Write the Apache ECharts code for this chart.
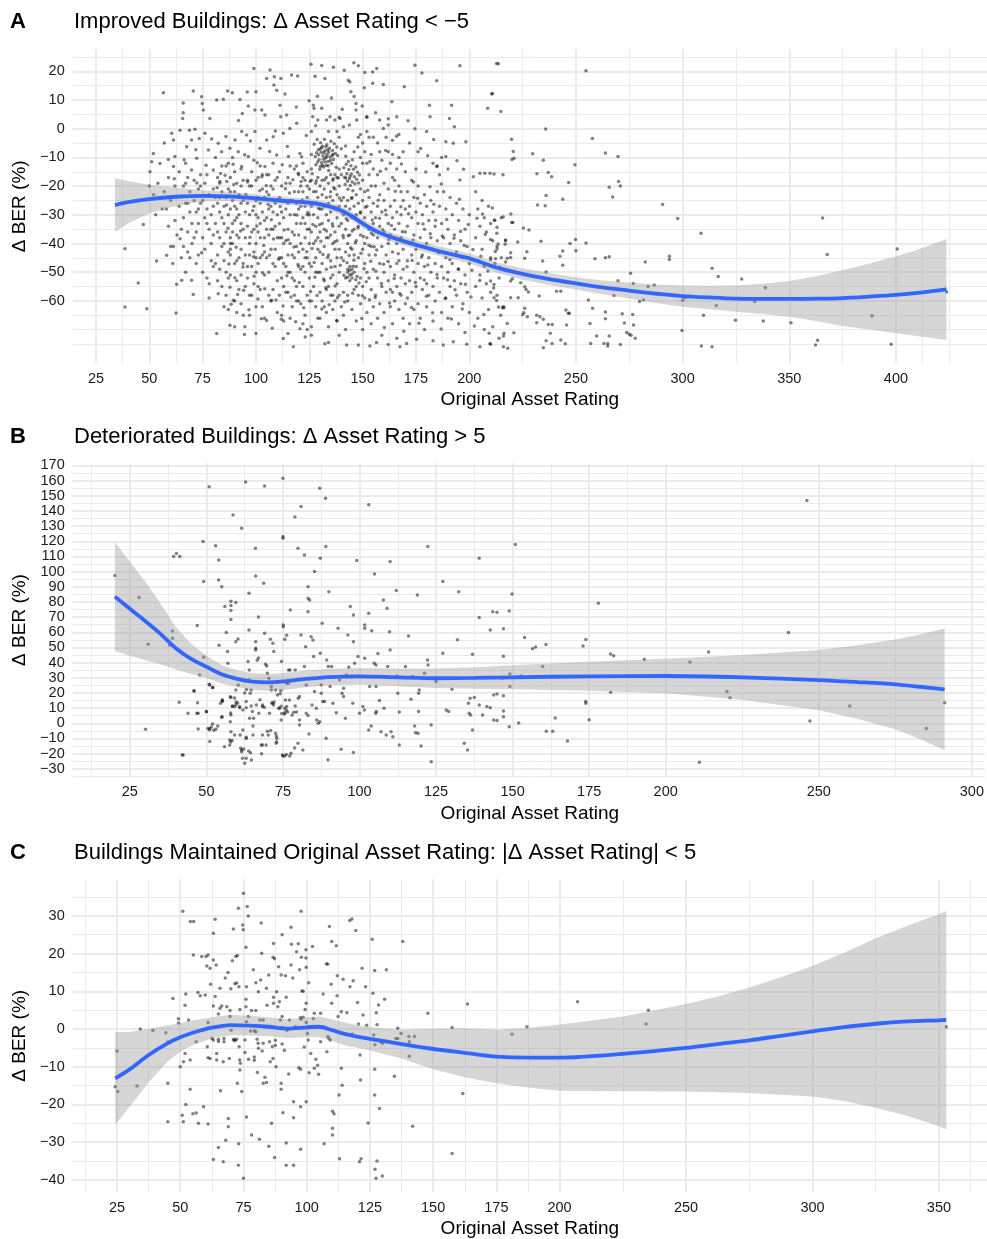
<!DOCTYPE html>
<html>
<head>
<meta charset="utf-8">
<script src="https://cdn.jsdelivr.net/npm/echarts@6/dist/echarts.min.js"></script>
<style>
html,body{margin:0;padding:0;background:#fff}
#chart{width:987px;height:1239px}
</style>
</head>
<body>
<div id="chart"></div>
<script>
// ---------- Panel A: improved buildings ----------
const ptsA = [
[99,21],[106.6,20.5],[116.7,18.7],[119.5,18.4],[125.8,22.5],[130.8,22],[136.3,21.4],[141.4,20.4],[145.9,23],[148,21.9],[151,19.6],[154.7,19.8],[156.6,21],[174.5,22.1],[177.8,19.4],[195.6,21.9],[212.8,22.7],[210.5,12.1],[208.6,7.1],[184.7,16.7],[169.5,14.6],[159.7,15.4],[154.7,15.8],[150.8,14.3],[144,16.3],[143.3,16.9],[144.5,12.9],[146,11.2],[146.9,8.8],[146.9,6.5],[127.7,18.3],[132.3,17.5],[126.9,8.2],[127.2,7.1],[130.8,7.1],[126.6,4.2],[133.1,3],[134.7,4.2],[139.4,3.6],[141,0.7],[143.8,1.3],[147.2,3],[151.9,4.2],[162,3.5],[166,4.2],[162,1.3],[159.7,0.1],[174.5,0],[181.6,4.2],[181.3,8.2],[191.7,8.2],[193,0.7],[180,-1],[189,-4.5],[192.5,-5.1],[198.4,-4.5],[180.5,-9.4],[184.7,-13.2],[189,-9.7],[201.9,-16.7],[205,-15.5],[207.3,-15.5],[209.7,-15.5],[195.6,-17.9],[181.6,-20.2],
[56.6,12.5],[70.6,13.1],[65.9,9],[65.9,5.6],[65.6,3.6],[74.5,11.1],[74.8,8.8],[75.3,6.5],[78.4,3.6],[81.6,10],[84.7,10.3],[86.7,13.1],[88.9,12.5],[92.5,10.2],[95.9,12.8],[100,12.9],[105,17.5],[108.6,18.1],[111.7,17.5],[108.4,15.2],[109.7,13.4],[113.6,12.1],[111.3,8.2],[96.4,7.9],[93.6,5.3],[99.5,6.5],[102.7,6.5],[104.2,4.8],[111.6,4.2],[114.4,4.8],
[60.5,-1.6],[64.4,-0.5],[68.8,-0.5],[71.4,-0.2],[61.3,-3.9],[69.8,-3.9],[73.4,-3.4],[76.1,-1.6],[82.3,-5.1],[87.8,-6.8],[90.2,-3.9],[93.3,-1],[95.6,-2.2],[99.5,-1],[105,-3.9],[108.1,-2.8],[112.8,-1.6],[115.9,0.1],[119.1,1.9],
[51.9,-8.6],[51.1,-11.5],[55,-12.1],[58.9,-10.7],[62,-9.7],[67.5,-6.3],[72.2,-10.3],[77.7,-7.4],[83.9,-8],[91.7,-8],[96.4,-9.7],[101.9,-6.8],[109.7,-9.2],[115.2,-9.7],[120.6,-8.6],
[50.3,-15],[61.3,-13.2],[69.8,-14.4],[80,-14.4],[83.1,-18.4],[86.3,-18.4],[93.3,-13.2],[104.2,-13.2],[119.8,-15.5],
[47.2,-33.4],[38.6,-41.8],[44.8,-53.8],[38.6,-62.1],[48.8,-62.7],[53.4,-46.1],[58.1,-44.1],[61.3,-41],[64.4,-38.3],[62.8,-54.2],[62.5,-64.2],[65.2,-52.8],[69.8,-52.8],[70.6,-57.8],[74.5,-43.2],[78.1,-54],[82.3,-57.5],[81.6,-71.4],[87.8,-68.5],[90,-69],[94.8,-69],[87.8,-55.2],[89.4,-59.8],[94.1,-65],[100,-71.4],[105,-66.8],[107.3,-59.8],[112.8,-73.1],[115,-71.4],[117.5,-76],[120.6,-69.7],[126,-72],[126,-69],[132.3,-74.9],[134,-74.5],[142.5,-75.4],[148,-75.4],[153.4,-75.7],[156.5,-74.5],[162,-75.2],[167.5,-76],[170.6,-74.8],[175.3,-73.4],[183,-73.9],[187.8,-75.4],[192.5,-74.2],[198.8,-75.1],[205,-76],[209.7,-74.8],
[50,-20],[52,-23],[53,-30],[54,-19],[56,-28],[57,-22],[57,-5],[58,-28],[59,-34],[59,-17],[60,-41],[60,-25],[61,-47],[62,-32],[62,-20],[63,-37],[64,-15],[64,-27],[65,-45],[65,-35],
[66,-20],[66,-31],[67,-26],[67,-12],[67,-50],[68,-36],[68,-17],[68,-43],[69,-29],[69,-22],[70,-40],[70,-33],[71,-25],[71,-18],[72,-47],[72,-29],[72,-36],[73,-21],[73,-33],[73,-44],[74,-16],[74,-26],[75,-25],[75,-38],[76,-42],[76,-19],[76,-31],[77,-16],[77,-52],[77,-28],[78,-59],[78,-23],[78,-35],[79,-30],[79,-46],[80,-37],[80,-21],[80,-27],[80,-48],[79,-40],[77,-33],[75,-50],[74,-20],[73,-28],[71,-38],[69,-45],[68,-26],[67,-19],[66,-41],
[81,-24],[81,-33],[81,-10],[82,-26],[82,-44],[82,-17],[83,-19],[83,-49],[83,-38],[83,-29],[84,-41],[84,-13],[84,-55],[84,-22],[85,-33],[85,-46],[85,-27],[86,-58],[86,-36],[86,-24],[87,-12],[87,-43],[87,-30],[87,-52],[87,-21],[88,-28],[88,-38],[88,-40],[88,-42],[88,-44],[88,-17],[89,-36],[89,-40],[89,-25],[89,-10],[90,-22],[90,-60],[90,-32],[90,-47],[90,-15],[91,-46],[91,-28],[91,-37],[91,-19],[91,-53],[92,-30],[92,-38],[92,-23],[93,-14],[93,-51],[93,-33],[93,-26],[93,-42],[94,-25],[94,-35],[94,-18],[95,-44],[95,-29],[95,-55],[84,-31],[86,-50],[92,-56],[82,-36],[93,-20],[94,-47],[85,-62],[91,-64],[89,-33],[88,-51],[93,-61],[81,-47],[95,-38],[92,-45],[87,-63],[91,-31],[83,-24],[85,-40],[88,-22],[90,-27],[86,-13],[82,-53],
[96,-34],[96,-26],[96,-48],[97,-20],[97,-58],[97,-40],[97,-30],[98,-48],[98,-15],[98,-24],[98,-36],[99,-27],[99,-11],[99,-43],[99,-54],[100,-40],[100,-18],[100,-30],[101,-17],[101,-55],[101,-36],[101,-24],[102,-33],[102,-13],[102,-45],[103,-44],[103,-62],[103,-21],[103,-29],[104,-24],[104,-38],[104,-51],[105,-31],[105,-16],[106,-37],[106,-50],[106,-23],[107,-20],[107,-60],[107,-27],[107,-42],[108,-29],[108,-12],[108,-47],[109,-42],[109,-18],[109,-34],[110,-53],[110,-25],[110,-38],[97,-65],[100,-62],[102,-56],[104,-66],[106,-58],[108,-56],[110,-64],[96,-52],[99,-35],[101,-47],[105,-45],[109,-26],[108,-35],[110,-17],[98,-20],[100,-25],[102,-26],[104,-32],[106,-28],[96,-18],[101,-31],[105,-35],[107,-35],[109,-48],[97,-44],[100,-50],[102,-38],[104,-43],[106,-16],[108,-21],[110,-30],[103,-16],[105,-22],[98,-58],[100,-45],
[111,-15],[111,-33],[111,-24],[111,-45],[112,-20],[112,-38],[112,-52],[112,-65],[113,-25],[113,-47],[113,-31],[114,-39],[114,-57],[114,-28],[115,-57],[115,-17],[115,-35],[115,-44],[116,-19],[116,-30],[116,-50],[117,-44],[117,-25],[117,-36],[117,-62],[118,-53],[118,-22],[118,-30],[119,-26],[119,-13],[119,-41],[119,-55],[120,-16],[120,-37],[120,-28],[120,-48],[121,-61],[121,-49],[121,-20],[121,-33],[122,-22],[122,-31],[122,-42],[122,-55],[122,-12],[123,-18],[123,-27],[123,-38],[123,-50],[123,-65],[124,-15],[124,-24],[124,-35],[124,-45],[124,-58],[125,-21],[125,-30],[125,-40],[125,-52],[125,-60],[111,-58],[113,-67],[116,-66],[118,-58],[120,-60],[122,-68],[124,-70],[112,-29],[114,-19],[116,-40],[118,-45],[113,-40],[115,-26],[117,-52],[119,-33],[121,-27],[123,-45],[125,-47],[116,-13],[118,-14],[120,-22],[122,-17],[124,-30],[111,-38],[113,-55],[115,-50],[119,-60],[121,-40],[123,-33],[125,-35],[112,-45],[114,-48],[116,-25],[118,-37],[120,-43],[122,-48],[124,-20],
[127.3,-5.4],[127.8,-9.7],[128.1,-12.6],[128.7,-3.8],[129.2,-7.3],[129.6,-10.8],[129.9,-14.1],[130.3,-4.9],[130.6,-8.2],[130.8,-11.9],[131.2,-6.1],[131.4,-9.4],[131.7,-13.3],[132.1,-3.7],[132.3,-7.7],[132.6,-10.2],[132.9,-12.8],[133.2,-5.6],[133.4,-8.9],[133.8,-11.4],[134.1,-14.6],[134.4,-6.8],[134.7,-9.9],[135.1,-4.4],[135.5,-12.1],[135.9,-7.6],[136.3,-10.7],[136.7,-5.2],[137.2,-8.6],[137.6,-13.4],[138.3,-9.3],[130.1,-7.1],[131.9,-8.4],[133.6,-7.4],[132.4,-11.6],[134.9,-11.1],[129.4,-9.1],[131.1,-12.7],[133.1,-9.8],[136.1,-8.9],[128.4,-8.4],[130.7,-6.6],[132.8,-6.3],[134.2,-8.1],[135.7,-9.4],[131.6,-10.6],[133.9,-12.9],[130.2,-13.2],[137.9,-6.4],[128.9,-11.6],
[126,-1],[128,1],[129,3],[137,3],[138,-1],[139,4],[139,-3],[126,-18],[127,-22],[127,-30],[127,-40],[127,-55],[128,-19],[128,-26],[128,-34],[128,-45],[128,-62],[129,-17],[129,-24],[129,-31],[129,-38],[129,-50],[129,-66],[130,-20],[130,-28],[130,-36],[130,-43],[130,-57],[131,-18],[131,-23],[131,-33],[131,-47],[131,-60],[132,-21],[132,-27],[132,-35],[132,-41],[132,-53],[133,-17],[133,-24],[133,-30],[133,-38],[133,-49],[133,-64],[134,-19],[134,-26],[134,-32],[134,-44],[134,-55],[134,-69],[135,-16],[135,-22],[135,-29],[135,-37],[135,-46],[135,-58],[136,-18],[136,-25],[136,-34],[136,-40],[136,-51],[136,-63],[137,-16],[137,-21],[137,-28],[137,-36],[137,-48],[137,-60],[138,-17],[138,-23],[138,-31],[138,-39],[138,-54],[138,-67],[139,-14],[139,-20],[139,-27],[139,-34],[139,-42],[139,-50],[139,-58],[139,-72],[140,-7],[140,-16],[140,-25],[140,-33],[140,-45],[140,-62],[126,-9],[126,-27],[126,-36],[126,-48],[126,-60],[128,-50],[130,-50],[132,-62],[134,-38],[136,-58],[138,-45],[129,-42],[131,-28],[133,-56],[135,-52],[137,-42],[126,-14],[128,-39],[130,-66],[134,-1],
[141.2,-13.6],[141.5,-16.9],[141.8,-19.4],[142.3,-12.4],[142.6,-15.7],[142.9,-18.3],[143.1,-21.1],[143.5,-14.2],[143.8,-17.4],[144.2,-19.8],[144.5,-12.9],[144.7,-15.8],[145.1,-18.6],[145.4,-21.6],[145.7,-14.1],[146.1,-16.7],[146.4,-19.2],[146.8,-13.3],[147.2,-17.6],[147.6,-15.2],[148.1,-18.9],[148.5,-16.1],[143.3,-11.4],[145.2,-10.8],[144.1,-16.6],[142.1,-17.2],
[149,-2],[152,4],[155,-3],[141,-24],[141,-30],[141,-38],[141,-46],[141,-57],[141,-65],[142,-27],[142,-35],[142,-43],[142,-52],[142,-70],[143,-25],[143,-32],[143,-40],[143,-49],[143,-50],[143,-60],[144,-28],[144,-37],[144,-48],[144,-51],[144,-53],[145,-24],[145,-31],[145,-42],[145,-49],[145,-52],[145,-63],[146,-27],[146,-35],[146,-44],[146,-50],[146,-56],[147,-23],[147,-30],[147,-39],[147,-48],[147,-67],[148,-26],[148,-34],[148,-45],[148,-58],[149,-10],[149,-21],[149,-29],[149,-37],[149,-52],[149,-61],[150,-5],[150,-18],[150,-25],[150,-33],[150,-42],[150,-55],[150,-70],[151,-8],[151,-22],[151,-31],[151,-47],[151,-59],[152,-12],[152,-27],[152,-38],[152,-50],[152,-64],[153,-3],[153,-16],[153,-24],[153,-35],[153,-44],[154,-9],[154,-20],[154,-29],[154,-41],[154,-56],[154,-68],[155,-14],[155,-26],[155,-37],[155,-49],[155,-62],[142,-6],[146,-8],[148,-3],[150,-12],[152,-1],[143,-58],[147,-55],[151,-40],[153,-52],[155,-33],
[157,-5],[158,3],[162,-8],[163,-12],[164,-4],[165,-18],[167,-10],[168,-22],[170,-15],[156,-20],[156,-31],[156,-44],[156,-58],[157,-16],[157,-27],[157,-38],[157,-52],[157,-66],[158,-23],[158,-34],[158,-47],[158,-61],[159,-11],[159,-29],[159,-41],[159,-55],[159,-72],[160,-19],[160,-25],[160,-36],[160,-50],[160,-64],[161,-14],[161,-30],[161,-44],[161,-57],[162,-21],[162,-33],[162,-40],[162,-53],[163,-27],[163,-37],[163,-48],[163,-62],[164,-17],[164,-31],[164,-43],[164,-57],[164,-68],[165,-25],[165,-35],[165,-51],[165,-60],[166,-14],[166,-29],[166,-40],[166,-55],[166,-73],[167,-20],[167,-33],[167,-46],[167,-63],[168,-30],[168,-38],[168,-52],[168,-58],[169,-8],[169,-25],[169,-42],[169,-49],[169,-66],[170,-28],[170,-36],[170,-54],[170,-61],[158,-8],[161,-3],[164,-9],[167,-2],[163,-56],[166,-47],
[172,-5],[175,-14],[176,-8],[183,-12],[185,-13],[171,-22],[171,-34],[171,-46],[171,-59],[172,-27],[172,-40],[172,-53],[172,-68],[173,-18],[173,-31],[173,-44],[173,-57],[174,-24],[174,-37],[174,-50],[174,-63],[175,-29],[175,-42],[175,-55],[176,-20],[176,-33],[176,-47],[176,-61],[177,-26],[177,-38],[177,-52],[177,-66],[178,-30],[178,-44],[178,-56],[179,-23],[179,-35],[179,-48],[179,-70],[180,-27],[180,-40],[180,-54],[180,-62],[181,-32],[181,-45],[181,-58],[182,-25],[182,-38],[182,-50],[183,-29],[183,-42],[183,-55],[183,-67],[184,-34],[184,-47],[184,-60],[185,-22],[185,-39],[185,-52],
[187,-10],[186,-27],[186,-43],[186,-57],[187,-33],[187,-48],[187,-64],[188,-22],[188,-38],[188,-52],[189,-28],[189,-45],[189,-59],[190,-35],[190,-50],[190,-66],[191,-24],[191,-40],[191,-55],[192,-30],[192,-47],[192,-62],[193,-37],[193,-53],[194,-26],[194,-43],[194,-58],[195,-32],[195,-49],[195,-68],[196,-39],[196,-54],[197,-28],[197,-45],[197,-61],[198,-35],[198,-51],[198,-71],[199,-41],[199,-57],[200,-30],[200,-47],[200,-64],[190,-14],[186,-16],
[213,-41],[212,-32],[215,-31],[214,-52],[210,-45],[217,-39],[216,-62],[216,-76],[203,-22],[203,-38],[203,-55],[204,-28],[204,-46],[204,-66],[205,-34],[205,-51],[206,-25],[206,-42],[206,-59],[207,-31],[207,-48],[207,-70],[208,-36],[208,-54],[209,-27],[209,-63],[210,-33],[210,-57],[211,-39],[211,-69],[212,-47],[213,-58],[214,-73],[215,-45],
[85.5,-16.2],[86.8,-34.7],[87.3,-47.1],[88.4,-61.2],[89.6,-19.4],[90.7,-41.3],[91.4,-57.8],[92.8,-35.6],[93.9,-48.2],[94.6,-71.7],[95.3,-22.9],[96.7,-63.1],[97.2,-37.8],[98.5,-28.6],[99.1,-51.4],[100.4,-33.9],[100.9,-59.3],[101.8,-21.6],[102.5,-66.2],[103.6,-40.7],[104.1,-55.8],[105.7,-26.4],[106.3,-44.1],[107.6,-69.5],[108.2,-38.4],[109.4,-59.7],[110.6,-45.5],[111.3,-27.1],[112.7,-61.8],[113.2,-35.3],[114.5,-51.2],[115.7,-22.4],[116.4,-58.6],[117.8,-41.2],[118.6,-67.3],[119.2,-30.1],[120.3,-53.6],[121.7,-24.8],[122.4,-62.4],[123.8,-42.9],[124.3,-29.2],[125.6,-56.7],[86.2,-26.6],[90.1,-51.9],[94.2,-56.3],[98.9,-44.6],[103.1,-50.2],[107.2,-31.7],[111.9,-66.4],[115.1,-38.7],[119.7,-47.3],[123.1,-72.6],
[125.4,-18.3],[126.7,-33.4],[127.3,-46.6],[128.6,-58.1],[129.3,-27.7],[130.4,-39.2],[131.7,-52.4],[132.2,-17.8],[133.6,-44.9],[134.3,-61.3],[135.8,-33.1],[136.4,-20.6],[137.1,-54.8],[138.7,-28.2],[139.5,-47.6],[140.8,-37.1],[141.6,-60.4],[142.3,-31.4],[143.7,-44.2],[144.8,-24.3],[145.3,-57.3],[146.6,-39.7],[147.4,-51.5],[148.9,-29.4],[149.6,-66.1],[150.3,-37.6],[151.7,-53.3],[152.4,-21.4],[153.8,-46.2],[154.5,-31.8],[155.9,-58.8],[156.6,-42.3],[157.3,-24.9],[158.8,-53.9],[159.4,-35.2],[160.2,-69.3],[126.3,-41.7],[128.2,-21.9],[130.9,-62.8],[133.1,-35.6],[135.2,-48.3],[137.8,-66.8],[139.1,-24.1],[141.2,-51.1],[143.2,-37.3],[145.9,-45.8],[147.8,-34.6],[149.2,-43.4],[151.3,-27.4],[153.2,-59.6],[155.4,-41.1],[157.9,-31.2],[159.8,-47.2],[127.6,-51.8],[131.4,-43.8],[134.8,-23.7],[138.2,-58.9],[142.7,-46.7],[146.2,-31.1],[150.7,-48.8],[154.1,-36.4],[129.8,-33.5],[136.9,-39.4],[144.4,-41.5],[148.3,-53.8],[152.9,-40.6],[156.2,-49.7],[132.7,-55.4],[140.2,-28.9],[145.1,-35.6],[149.9,-58.2],[143.9,-49.3],[144.9,-50.7],[145.6,-47.9],[142.9,-51.8],[146.8,-52.6],
[160.7,-28.4],[161.9,-46.3],[162.6,-60.7],[163.5,-33.7],[164.8,-52.2],[165.3,-21.8],[166.7,-43.6],[167.4,-57.4],[168.6,-35.9],[169.3,-70.6],[170.8,-48.1],[171.5,-29.6],[172.9,-62.3],[173.6,-38.8],[174.7,-53.6],[175.8,-24.2],[176.4,-67.8],[177.6,-44.7],[178.3,-33.2],[179.9,-58.4],[180.6,-47.5],[181.7,-36.6],[182.8,-64.1],[183.4,-26.3],[184.9,-50.8],[185.6,-43.1],[186.8,-69.8],[187.3,-37.4],[188.7,-59.2],[189.4,-31.6],[190.9,-45.7],[191.6,-66.3],[192.8,-38.2],[193.3,-56.1],[194.8,-48.9],[195.4,-24.6],[196.7,-62.8],[197.6,-40.7],[198.2,-54.2],[199.5,-33.4],[200.8,-58.6],[201.7,-42.1],[202.4,-68.7],[203.6,-31.2],[204.9,-52.9],[205.4,-44.4],[206.8,-64.7],[207.5,-36.9],[208.7,-49.6],[209.3,-71.3],[210.8,-27.6],[211.4,-55.5],[212.9,-36.4],[213.7,-62.1],[214.3,-48.3],[162.2,-38.6],[167.9,-27.2],[173.2,-45.9],[178.9,-52.7],[184.2,-31.9],[189.8,-52.6],[195.9,-35.8],[201.2,-49.3],[206.2,-29.7],[212.2,-42.8],
[61.7,-17.4],[66.3,-10.8],[71.8,-7.3],[76.6,-12.7],[79.2,-3.6],[83.4,-15.6],[85.9,-2.7],[89.3,-12.4],[91.8,2.9],[94.7,-9.1],[97.4,-4.3],[100.6,-11.9],[102.8,-16.7],[106.4,-7.9],[109.1,-0.8],[112.3,-12.6],[114.7,-6.2],[117.3,-17.8],[118.9,7.6],[121.4,-9.8],[123.6,-2.4],[124.9,9.7],[126.4,-15.7],[128.8,11.3],[135.4,10.7],[138.6,-17.2],[140.4,6.8],[142.1,-9.6],[147.7,-6.4],[149.8,7.9],[153.4,-11.4],[156.1,5.6],[158.3,-14.8],[160.8,-7.6],[163.7,9.4],[165.9,-2.6],[168.2,-12.3],[171.3,2.8],[173.8,-18.6],[177.2,-6.9],[179.6,-15.1],[183.3,-3.8],[186.9,-19.3],[190.7,3.6],[194.2,-11.2],[197.3,-14.1],[72.3,-18.9],[81.8,-20.6],[96.1,-18.6],[104.8,-19.8],[113.8,-20.9],[121.2,-18.4],[128.3,-18.1],[136.2,-17.4],
[213.6,22.6],[254.7,20.2],[210.9,12.3],[214.8,6],[235.8,-0.1],[257.7,-3.4],[219.8,-3.7],[220.6,-7.9],[220,-10.7],[221,-10.3],[229.7,-8.7],[234.7,-11],[263.8,-8.5],[269.7,-9.7],[249.5,-12.6],[211.6,-15.8],[215.8,-16],[231.7,-15.7],[237,-15.3],[238.6,-16.7],[246.6,-18.7],[243.8,-24.6],[232,-26.6],[235.6,-26.8],[236,-23.3],[265.6,-20.4],[270,-18.4],[270.8,-20],[267.2,-23.8],[290.6,-26.4],[297.7,-31.3],[308.6,-36.4],[365.6,-31.1],[367.8,-43.8],[400.6,-41.9],
[211.7,-31.8],[215.9,-30.8],[219.5,-29.7],[219.9,-32.7],[220.4,-32.7],[225.3,-34.6],[228,-35.3],[213,-34.3],[210,-38.6],[213.5,-40.2],[213,-41.9],[217,-38.8],[216.8,-40.3],[219.4,-43.2],[222.7,-39.5],[226,-45.1],[227,-42.9],[210,-45.6],[212.3,-45.3],[217.8,-45.1],[219.4,-44.9],[217,-46.4],[210,-53.1],[211.6,-54.3],[219.4,-53.1],[220.2,-52.3],[211.6,-58.9],[212.8,-59.9],[219.4,-58.9],[215.5,-62.4],[216.3,-62.4],[214.7,-65],[217.8,-67.9],[210,-75.1],[216.3,-71.3],[216,-72.2],[220.9,-71.1],[218,-76.5],
[233.6,-39.2],[234.4,-46.1],[236,-49.9],[237,-52.3],[232.8,-58.3],[231.6,-65],[233.1,-65.5],[234.7,-66.4],[231.6,-67.6],[237,-68.2],[238.9,-68.2],[225,-64.8],[225.6,-64.1],[227.2,-65.5],[226,-62.6],[222.9,-58.9],[226.6,-56],[227.7,-56.9],[226,-55.1],[224.1,-53.7],[238,-71.3],[236,-73.9],[238.8,-74.8],[234.7,-76.3],[242.9,-73.6],[245,-74.9],[240.9,-56.6],[242.9,-56.6],[242.5,-44.4],[243.8,-42.6],[243.8,-47.6],[245.3,-63.2],[246.4,-64.3],[246.9,-64.3],[245.6,-68.4],[247.2,-40],[249.8,-38.6],[250,-42.5],[254.7,-39.8],[255.8,-59.7],[256.6,-67.9],[257.8,-62.6],[256.9,-74.8],[258.9,-45.3],[259.7,-72.2],[263.8,-45],[265.6,-44.6],[263.8,-63.9],[263.8,-66.2],[263.1,-74.8],[264.9,-74.8],[264.9,-75.7],[265.6,-72.2],[267.8,-58.1],[269.7,-53],[270.8,-75.2],[271.7,-64.5],[272.7,-67.7],[273.8,-71],[275,-71.6],[275.8,-72],[276.6,-64.7],[277,-68.4],[275.6,-50.4],[276.9,-53.9],[277.8,-73],[279.8,-60.2],[281.6,-59.7],[282.5,-46.4],[283.8,-55],[286.7,-54.5],[287.8,-57.7],[293.8,-44.4],[293.8,-45.6],[300,-59.8],[301.1,-58.9],[299.7,-70.3],[309.8,-65],[308.8,-75.7],[313.8,-76],[313.8,-48.6],[316.7,-51.5],[315.8,-61.6],[324.8,-66.7],[327.7,-52.4],[333.8,-60.2],[337.8,-67],[338.8,-55.4],[350.8,-67.6],[362.3,-75.4],[363.3,-73.7],[388.8,-65.2],[397.8,-75.1],[423.8,-56.9]
];
const smoothA_x  = [33.9,40,50,62.5,75,87.5,100,112.5,125,132,139.4,145,150,156,162.8,175,187.5,200,212.5,225,237.5,250,262.5,275,287.5,300,312.5,325,337.5,350,362.5,375,387.5,400,412.5,423.7];
const smoothA_y  = [-26.6,-25.6,-24.5,-23.7,-23.4,-23.6,-24.3,-25.1,-25.8,-26.6,-28.3,-30.5,-33.0,-35.6,-37.6,-40.5,-43.0,-45.2,-48.3,-50.6,-52.4,-53.9,-55.3,-56.4,-57.5,-58.3,-58.8,-59.2,-59.3,-59.3,-59.2,-59.0,-58.5,-57.9,-57.0,-56.0];
const smoothA_lo = [-35.9,-33.0,-29.5,-26.9,-25.4,-25.2,-25.8,-26.5,-27.2,-28.0,-29.8,-32.0,-34.5,-37.1,-39.2,-42.1,-44.7,-47.0,-50.1,-52.6,-54.5,-56.0,-57.7,-59.2,-60.7,-62.0,-62.9,-63.8,-64.6,-65.5,-67.0,-68.7,-70.0,-71.3,-72.5,-73.6];
const smoothA_hi = [-17.3,-18.2,-19.5,-20.5,-21.4,-22.0,-22.8,-23.7,-24.4,-25.2,-26.8,-29.0,-31.5,-34.1,-36.0,-38.9,-41.3,-43.4,-46.5,-48.6,-50.3,-51.8,-52.9,-53.6,-54.3,-54.6,-54.7,-54.6,-54.0,-53.1,-51.4,-49.3,-47.0,-44.5,-41.6,-38.4];
const ticksA_x = [25,50,75,100,125,150,175,200,250,300,350,400];
const minorA_x = [37.5,62.5,87.5,112.5,137.5,162.5,187.5,225,275,325,375,412.5,425];
const ticksA_y = [-60,-50,-40,-30,-20,-10,0,10,20];
const minorA_y = [-75,-70,-65,-55,-45,-35,-25,-15,-5,5,15,25];

// ---------- Panel B: deteriorated buildings ----------
const ptsB = [
[20.1,97.4],[28,82.9],[31,52.1],[30.1,-4],[38,51.6],[38.9,56],[38.9,60.9],[39.3,110],[40.2,112],[41.3,110],[41.1,13.8],[42.1,-20.9],[44,6.6],[46,21.3],[47,64.4],[47.1,13.6],[47.3,6.6],[47.3,-3.7],[47.8,31.9],[48.9,119.8],[49.1,93.4],[49.1,43.5],[50,7.7],[50.5,-3.5],[51.1,-3.5],[51.6,-2.4],[52,-0.5],[50.9,156],[50.9,25.7],[51.1,-12],[52,23.5],[53,117],[54,107.7],[54,94.5],[55,90],[54.1,51.4],[55.2,15.5],[55.2,14.5],[55.2,4.4],[56,77],[56.5,59.8],[56.9,47.3],[57,39.6],[57.6,-11],[57.6,-14.3],[58,80.5],[58,77.6],[58,74.3],[58,68.4],[58,17],[58.5,11],[58,5.5],[57.8,1.1],[58,-5.5],[58.7,137.4],[59.3,11],[59.7,14],[59.6,22],[59.6,79.6],[59.6,53.8],[60.3,55.6],[60.4,25.3],[60.8,11],[61,-7.7],[61.2,-16.5],[61.5,128.6],[61.5,-17.6],[61.5,-18.7],[61.8,-23],[62.5,-26.4],[62.8,159],[63,14.3],[63,10.3],[63,-10],[63.9,85.7],[63.9,61.5],[63.6,40.7],[64,35.2],[64,28.6],[64.3,19.8],[64.7,-24.2],[65,7.7],[65.4,3.3],[65.2,-1.8],[66,115.4],[66.1,97.1],[66.1,53.8],[66.1,49.5],[66.1,48.4],[66.6,41.5],[67,43],[67,70],[67.5,15.6],[68.3,11],[68,-20],[68.3,-14.3],[68.7,92.3],[69,156.5],[69,59.3],[69.3,38.9],[69.7,37.8],[69.9,33],[70.4,29.7],[70.2,-7.7],[70.9,55.4],[71.2,24.2],[71.2,22],[71.7,13.2],[71.9,12.1],[71.7,52.7],[72,47.3],[72.6,-6.6],[72.9,-12.1],[73,-9.9],[73.9,9.9],[74.5,40.7],[74.8,-20.9],[75,161.5],[75,123.1],[75,122],[75.1,64.8],[75.1,63.7],[75.6,55.4],[76.2,58],[75.6,-21.5],[75.6,9.9],[75.6,7],[76.2,26.4],[76.8,26.4],[76.8,35.2],[77.3,35.2],[77.4,74.7],[77.6,-19.8],[78,5.5],[78.5,7.3],[78.9,136],[79,35.2],[79.9,115.4],[80,16.5],[80.4,17.6],[80.4,2.2],[80.4,-1.1],[80.9,142.9],[80.9,58.2],[81.5,-17.6],[82,111],[82,37.4],[82.4,50.5],[82.6,25.3],[82.6,6.6],[83.2,5.1],[83.2,90],[83.2,82.4],[83.7,81.3],[83.2,73.6],[83.5,-7],[84.2,57.1],[84.5,12.1],[84.8,54.9],[85,44],[85.3,100],[85.3,20.9],[85.9,9.9],[86,2.2],[86.5,0],[87,1.1],[87,155],[87.2,46.2],[87.2,108.8],[87.5,25.3],[87.5,19.8],[87.8,65.9],[88,14.3],[88.6,14.3],[88.9,148.4],[89,116.5],[89.1,-9.9],[89.3,41.8],[89.8,37.4],[89.7,-24],[90,86.8],[90.4,24.2],[90.9,37.4],[91.3,13.2],[92.4,7],[93,62.6],[93.5,28.6],[94,-17.1],[94.3,19.8],[94.8,17.6],[94.8,23.1],[95.4,3.3],[95.7,31.9],[96.2,58.2],[96.5,36.9],[97,77],[97.8,13.2],[98,71.4],[98,53.8],[98,-19.3],[98.4,39.6],[99.1,107.3],[99.5,44],[100,6.6],[101.1,11],[101.6,8.8],[101.7,64.8],[101.7,62.6],[101.7,42.9],[103,144],[103,72.5],[103,-4.4],[103.3,24.2],[103.8,-1.8],[104,61],[104.8,39.6],[105.4,38.5],[104.9,98.5],[105.3,6.6],[105.5,7.7],[105.4,24.2],[106,46],[106.5,15],[107,-5.5],[107.8,81.3],[108,9.9],[108.7,-7.7],[109,75.8],[109.2,37.4],[109.8,60.4],[110,106.6],[110,48.4],[110.3,-5.5],[110.9,-8.8],[112,87.5],[112.2,31.2],[112.5,19.8],[113,7.5],[113,-14.3],[115,37.4],[116,57.6],[116.8,15.8],[117.4,30.8],[118,-1.8],[118.3,-6.2],[119.1,-6.6],[118.9,84.6],[119.3,19.8],[119.5,22],[119.3,7.7],[120.1,-15],[121.2,33],[122.2,41.8],[122.4,38.5],[122.3,116.5],[123.4,-1.1],[123.4,-25.3],[125,27.5],[127.2,93.4],[127.2,46.2],[128.3,8.8],[129.1,7.7],[130.2,22.4],[132,55],[132.4,86.8],[134.2,-13.2],[135.6,13.2],[136.1,16.5],[135.3,-17.6],[135.8,6.6],[136.3,5.5],[136.9,45.5],[136.9,-4.4],[137.5,17],[139.1,108.8],[139.1,69.7],[139.1,12.1],[140.2,5.5],[141.6,11],[142.7,10.3],[142.7,61.5],[143.5,73.6],[143.8,18.7],[143.8,2.2],
[51.1,25.2],[52.1,23.7],[45.9,21.5],[55.2,14.7],[54.6,13.2],[57.8,17.5],[58.5,11.4],[59.6,12.4],[59.2,16.7],[60.2,13.4],[60.9,10.2],[62.5,20],[63.1,22.3],[64.6,22],[61.9,8.8],[64.6,11.4],[66.3,12.1],[68.3,12],[68.9,10.6],[71.3,13.4],[72.1,14.1],[73.6,10],[74.4,11.2],[74.6,6.4],[73.2,18.7],[74.1,19.5],[72.6,22],[74.3,21.6],[75.8,15.4],[76.2,11],[77.1,15.4],[76.5,7.5],[76.1,8.6],[75.5,6.1],[79,11.4],[79.4,7.5],[57.9,6.8],[54.9,4],[50,7.6],[46.9,6.6],[64.1,3.3],[67.1,6.6],[70.6,6.6],[74.4,2.2],[51,-4.4],[52.4,-4.6],[53.1,-3.9],[53.7,-1.8],[59.2,-7.7],[61.9,-4.4],[63,-9.2],[65.2,-7.7],[68.3,-7.7],[69.9,-5.3],[71,-4.8],[72.8,-8.4],[72.8,-13.2],[67.9,-14.3],[55.9,-15.4],[57.9,-12.3],[58.4,-11.4],[62.2,-17],[63.8,-18.3],[64.4,-19.4],[69.5,-14.3],[75,-21.5],[76.1,-20.6],[77.2,-21.5],[78.8,-16.3],[79.9,-13.2],[63,-23],[42.4,-20.9],
[150.9,117.8],[149.8,85.3],[144.9,73.2],[148.9,74],[147,62.4],[153.9,56.5],[156.5,49.2],[157.5,50.3],[160.9,52],[147,44.2],[159.8,37.4],[149.1,32.5],[146.7,29.7],[152.8,31.2],[149.1,24.2],[144.9,19.3],[147,18.2],[147,8.1],[147,4.4],[144.9,1.8],[148.9,-2.2],[152,0.2],[163.9,3.5],[161,-5.3],[163.1,-5.3],[167.9,-11.6],[173,51],[173.9,55.2],[178,79.1],[182,45.7],[183,44.6],[173.9,14.3],[173.9,13.2],[182,20.4],[175,2.4],[193,42.2],[207.9,40.4],[214,47],[211,-25.7],[220,20.9],[221,16.9],[240.1,59.8],[246.1,146.8],[247.1,1.5],[260.1,11.4],[285.1,-3.5],[291.1,13.6]
];
const smoothB_x  = [20.1,25,30,35,40,45,50,55,60,65,70,75,82.5,90,100,112.5,125,137.5,150,175,200,225,250,262.5,275,283,291.1];
const smoothB_y  = [83.5,75.5,67.5,59,49.5,42.5,37.3,32.3,29.3,27.5,27.0,27.6,29.3,30.5,31.0,30.3,29.7,29.9,30.3,31.0,31.2,30.3,28.5,27.2,25.7,24.1,22.4];
const smoothB_lo = [47.7,44.5,41.5,39,35.5,32.5,29.9,26.3,23.7,22.0,21.5,22.0,23.8,25.1,25.6,24.5,23.3,22.8,22.4,21.5,19.8,15.5,8.6,3.0,-3.9,-10.4,-17.7];
const smoothB_hi = [119.3,106.5,93.5,79,63.5,52.5,44.7,38.3,34.9,33.0,32.5,33.2,34.8,35.9,36.4,36.1,36.1,37.0,38.2,40.5,42.6,45.1,48.4,51.4,55.3,58.6,62.5];
const ticksB_x = [25,50,75,100,125,150,175,200,250,300];
const minorB_x = [12.5,37.5,62.5,87.5,112.5,137.5,162.5,187.5,225,275];
const ticksB_y = [-30,-20,-10,0,10,20,30,40,50,60,70,80,90,100,110,120,130,140,150,160,170];
const minorB_y = [-35,-25,-15,-5,5,15,25,35,45,55,65,75,85,95,105,115,125,135,145,155,165];

// ---------- Panel C: maintained rating ----------
const ptsC = [
[24.3,-15.3],[25,-5.8],[25.3,-16.6],[32.9,-15.1],[34.2,0],[39.2,-0.4],[44.3,-1],[45.1,-3.4],[45.1,-14.4],[47.1,8.1],[45.1,-24.6],[49.3,2.7],[49.3,1.6],[50,-10],[50.8,-22.9],[51,31.2],[51.2,-24.6],[51.3,-8.7],[51.9,-6.5],[51.9,6.3],[52.2,9.3],[52.2,-20],[53.3,2.4],[54,28.5],[55.3,28.5],[53.9,-8.2],[53.9,-16],[55,-22.5],[56.3,-22.3],[55.2,19.6],[56.3,-3.4],[57,9.7],[57.2,-25],[57.9,8.8],[58.5,19.2],[59.2,-20.6],[59.9,9],[60.2,19.2],[60.5,16.7],[60.7,-4.7],[61,19.6],[61,1.7],[61,-7.6],[61,-25.2],[61.8,16.1],[62,11.9],[61.8,-7.8],[62.5,-2.5],[63.1,18.3],[63.1,25.4],[63.1,6.1],[63.1,-2.9],[63.1,-34.6],[63.8,8.6],[63.8,29.1],[64.2,17],[64.4,-6.5],[64.4,-8.2],[65.1,4],[65.1,-2.7],[65.1,-3.3],[65.1,-31.4],[65.7,10.8],[65.7,5.5],[65.9,-16.4],[66.4,6.1],[67,-35.2],[67,-8.7],[67.3,-2.5],[67.3,-3.4],[67.8,13.5],[68,-29.5],[68.4,5.9],[68.9,15],[69,-23.7],[69,-25.9],[69.4,-7.8],[69.7,4.9],[69.7,3.3],[70,10.7],[70.1,-0.3],[70.6,18.1],[71,26.5],[71,-2.9],[71.3,-2.7],[71.7,-3.1],[72.3,-2.7],[71.6,12],[72.3,12.2],[72,19.2],[72.6,19.5],[72.6,-14.4],[73,32],[73,-36.1],[73.1,-30.4],[73.2,11.2],[73.3,-4.7],[73.5,-8.2],[73.8,-9.1],[73.6,-10.9],[73.6,5.2],[74.3,-16.6],[74.7,27.6],[74.9,26.3],[75,36],[75,-39.6],[75.6,-2.9],[75.6,-6.2],[76,21.7],[76,5.9],[76,7.9],[76.2,11.2],[76.2,1.9],[76.2,-23.3],[76.5,32.5],[76.9,30],[76.9,3.3],[77,-8],[77.8,-0.5],[78.2,4.9],[78.2,-28.1],[78.9,15.7],[79.3,-0.5],[79.3,-7.4],[79.3,-8.3],[79.9,4.9],[79.9,12.3],[79.9,-0.7],[80.4,-2.7],[80.8,-3.8],[80.5,-11.5],[80.9,9.9],[80.9,-5.1],[81.3,-29.2],[81.5,2.4],[81.8,13],[82,28.1],[82.2,20.1],[82.4,-5.8],[82.8,-14.4],[82.8,2.4],[82.8,-3.8],[83.5,-12.8],[83.7,0.6],[84.1,10.8],[84.1,-14.2],[84.3,6.3],[85,14.3],[85,-31.1],[85.3,-3.4],[85.6,-8.7],[86.1,-25],[86.4,-4.7],[86.7,-7.8],[86.7,19],[86.9,22.7],[86.9,8.4],[86.9,6.8],[87.3,18.6],[87.3,-34.1],[87.6,-3],[87.6,-4.3],[87.9,-10],[88.1,9.9],[88.6,5.9],[88.9,16.5],[89.2,7.2],[89.6,2.4],[89.9,14.3],[89.9,-14.4],[89.9,-16],[90.3,25],[90.3,3.3],[90.3,0.4],[90.3,-4],[90.6,-22.2],[91.2,-5.6],[91.6,14.1],[91.9,8.4],[91.9,-30.2],[91.9,-36.1],[92.2,-0.3],[92.9,-11.9],[93.2,2.4],[93.8,27],[93.8,17],[94,22.5],[94.5,13.5],[94.8,-19.3],[94.8,-23.5],[94.8,-36.1],[95.6,0.6],[96,20.5],[96.7,22.6],[96.9,-10.3],[97.2,15.7],[97.5,3],[97.8,2.6],[97.6,-10.7],[97.6,-20.6],[97.6,-31.9],[97.8,31.2],[97.9,19],[98.1,10.1],[98.6,10],[98.6,3.1],[99,-4.8],[99.4,5.2],[99.7,21],[99.7,18.8],[99.8,16.4],[99.8,6.8],[99.8,1.7],[99.8,-19.3],[100.3,-1.2],[100.6,-2.9],[100.8,12.3],[101,-11.6],[101.6,-6.5],[102.3,21.9],[102.6,2.8],[103,4.2],[103,-10.4],[103.6,-8],[104.3,-9.6],[104.7,-12],[105.5,4.2],[105.5,-3.4],[106.5,9.3],[106.9,-30.4],[107.8,17.3],[108.3,17.2],[108,-6],[108.4,-2],[108.8,-2.5],[109,27.2],[109.3,-2.9],[109.7,11.9],[109.9,6.8],[109.9,23.2],[110.2,-21.8],[110.8,-22.5],[110.2,-26.3],[110.2,-28.1],[111.7,22.1],[112,8.8],[112.1,14.1],[112.4,3.3],[112.8,-17.5],[113,-34.4],[113.7,4.6],[113.7,-10.4],[114,-14.9],[114.4,13.2],[115.9,4.3],[117,28.8],[117.9,29.2],[117.1,11.2],[118,-1.3],[118.4,12.8],[119.4,26.1],[120.1,7],[120.5,1.3],[120.9,-35.2],[121.5,-34.4],[121.1,-6.9],[121.3,-13.5],[121.9,16.1],[122.3,3.7],[123.3,11.2],[123.7,1],[124.3,-24.9],[125.9,23.8],[126.2,9.5],[126.5,-1.6],[126.8,-2.9],[127,-4.2],[126.9,-10.7],[126.9,15.5],[126.9,-17.5],[127,-37.2],[127.4,-39.6],[127.5,4.3],[127.8,1.1],[127.8,-35],[128.4,6.4],[128.8,-21.1],[129.2,-3.4],[130,-3.8],[129.9,-39],[130.8,7.9],[131.5,15.7],[134.7,-12.5],[135.3,-2.5],[136,-2.5],[136,0.2],[137.3,-1.2],[138,23.2],[140.4,-2],[140.6,-3.4],[140.6,-7.2],[141.9,-25.8],[142.6,-2],[147.9,4.2],[157.5,0.4],[157.5,-33],[161.7,-17.1],[163.6,6.6],
[181.2,-1.4],[187.1,0.6],[207.1,7.2],[234.2,1.3],[235.1,5],[352.9,0.6]
];
const smoothC_x  = [24.3,30,37.5,45,50,55,62.5,70,77.5,85,92.5,100,105,110,115,120,125,137.5,150,162.5,175,187.5,200,225,250,262.5,275,287.5,300,312.5,325,337.5,350,352.9];
const smoothC_y  = [-13.1,-10.7,-6.9,-3.8,-2.2,-1.0,0.35,1.05,0.9,0.6,0.1,0.45,0.6,-0.3,-1.3,-2.0,-2.6,-4.0,-5.3,-6.3,-7.3,-7.6,-7.6,-6.6,-5.0,-4.0,-3.0,-1.8,-0.6,0.5,1.4,2.0,2.3,2.4];
const smoothC_lo = [-25.4,-20.6,-14.1,-8.6,-6.0,-4.3,-2.45,-1.65,-1.7,-1.9,-2.4,-2.15,-2.1,-3.2,-4.3,-5.0,-5.7,-7.8,-10.7,-12.8,-14.4,-15.5,-16.4,-16.5,-16.6,-16.8,-17.0,-17.4,-17.9,-19.1,-20.9,-23.1,-25.8,-26.6];
const smoothC_hi = [-0.8,-0.8,0.1,1.0,1.6,2.3,3.15,3.75,3.5,3.1,2.6,3.05,3.3,2.6,1.7,1.0,0.5,-0.2,0.1,0.2,-0.2,0.3,1.2,3.3,6.6,8.6,11.0,13.7,16.7,20.2,24.1,27.4,30.4,31.3];
const ticksC_x = [25,50,75,100,125,150,175,200,250,300,350];
const minorC_x = [12.5,37.5,62.5,87.5,112.5,137.5,162.5,187.5,225,275,325,362.5];
const ticksC_y = [-40,-30,-20,-10,0,10,20,30];
const minorC_y = [-35,-25,-15,-5,5,15,25,35];

// ---------- layout ----------
const FONT = '"Liberation Sans", Arial, Helvetica, sans-serif';
const GRID_COLOR = '#ebebeb';
const panels = [
  {letter:'A', title:'Improved Buildings: \u0394 Asset Rating < \u22125',
   top:49.3, height:314, xMin:14.08, xMax:442.7, yMin:-81.74, yMax:27.67,
   pts:ptsA, sx:smoothA_x, sy:smoothA_y, lo:smoothA_lo, hi:smoothA_hi,
   tx:ticksA_x, mx:minorA_x, ty:ticksA_y, my:minorA_y, titleY:21.5, xTitleY:399.3},
  {letter:'B', title:'Deteriorated Buildings: \u0394 Asset Rating > 5',
   top:463.3, height:313.4, xMin:6.33, xMax:304.2, yMin:-35.2, yMax:171.4,
   pts:ptsB, sx:smoothB_x, sy:smoothB_y, lo:smoothB_lo, hi:smoothB_hi,
   tx:ticksB_x, mx:minorB_x, ty:ticksB_y, my:minorB_y, titleY:437, xTitleY:814},
  {letter:'C', title:'Buildings Maintained Original Asset Rating: |\u0394 Asset Rating| < 5',
   top:879.3, height:313, xMin:7.48, xMax:369, yMin:-43.3, yMax:39.7,
   pts:ptsC, sx:smoothC_x, sy:smoothC_y, lo:smoothC_lo, hi:smoothC_hi,
   tx:ticksC_x, mx:minorC_x, ty:ticksC_y, my:minorC_y, titleY:853, xTitleY:1228.3}
];
const LEFT = 72.7, WIDTH = 914.3;
const fmt = v => String(v).replace('-', '\u2212');

const grid = [], xAxis = [], yAxis = [], series = [], graphic = [];

function txt(x, y, s, size, extra) {
  return Object.assign({
    type:'text', x:x, y:y, silent:true, z:10,
    style:{text:s, font:(extra && extra.bold ? 'bold ' : '') + size + 'px ' + FONT,
           fill:'#000', align:(extra && extra.align) || 'left', verticalAlign:'middle',
           textAlign:(extra && extra.align) || 'left', textVerticalAlign:'middle'}
  }, extra && extra.rotation ? {rotation: extra.rotation} : {});
}

panels.forEach((p, i) => {
  grid.push({left:LEFT, top:p.top, width:WIDTH, height:p.height, containLabel:false});
  const xBase = {gridIndex:i, type:'value', min:p.xMin, max:p.xMax, axisLine:{show:false}};
  const yBase = {gridIndex:i, type:'value', min:p.yMin, max:p.yMax, axisLine:{show:false}};
  // major grid + labels
  xAxis.push(Object.assign({}, xBase, {
    axisTick:{show:false, customValues:p.tx},
    axisLabel:{customValues:p.tx, formatter:fmt, fontSize:14.5, fontFamily:FONT, color:'#1a1a1a', margin:8},
    splitLine:{show:true, lineStyle:{color:GRID_COLOR, width:2}}
  }));
  // minor grid
  xAxis.push(Object.assign({}, xBase, {
    axisTick:{show:false, customValues:p.mx}, axisLabel:{show:false},
    splitLine:{show:true, lineStyle:{color:GRID_COLOR, width:1}}
  }));
  yAxis.push(Object.assign({}, yBase, {
    axisTick:{show:false, customValues:p.ty},
    axisLabel:{customValues:p.ty, formatter:fmt, fontSize:14.5, fontFamily:FONT, color:'#1a1a1a', margin:8},
    splitLine:{show:true, lineStyle:{color:GRID_COLOR, width:2}}
  }));
  yAxis.push(Object.assign({}, yBase, {
    axisTick:{show:false, customValues:p.my}, axisLabel:{show:false},
    splitLine:{show:true, lineStyle:{color:GRID_COLOR, width:1}}
  }));
  const xi = 2 * i, yi = 2 * i;
  // observations
  series.push({
    type:'scatter', xAxisIndex:xi, yAxisIndex:yi, data:p.pts, symbol:'circle', symbolSize:3.5,
    itemStyle:{color:'rgba(0,0,0,0.62)'}, silent:true, z:2, animation:false
  });
  // confidence ribbon
  series.push({
    type:'custom', xAxisIndex:xi, yAxisIndex:yi, silent:true, z:3, animation:false,
    data:p.sx.map((x, k) => [x, p.lo[k], p.hi[k]]),
    renderItem:function(params, api) {
      if (params.dataIndex !== 0) return;
      const poly = [];
      for (let k = 0; k < p.sx.length; k++) poly.push(api.coord([p.sx[k], p.hi[k]]));
      for (let k = p.sx.length - 1; k >= 0; k--) poly.push(api.coord([p.sx[k], p.lo[k]]));
      return {type:'polygon', shape:{points:poly}, style:{fill:'rgba(153,153,153,0.4)'}};
    }
  });
  // smoothed fit
  series.push({
    type:'line', xAxisIndex:xi, yAxisIndex:yi, data:p.sx.map((x, k) => [x, p.sy[k]]),
    smooth:0.3, showSymbol:false, symbol:'none', silent:true, z:4, animation:false,
    lineStyle:{color:'#3366FF', width:3.8}
  });
  // titles and axis names
  graphic.push(txt(10, p.titleY, p.letter, 22, {bold:true}));
  graphic.push(txt(74, p.titleY, p.title, 22));
  graphic.push(txt(LEFT + WIDTH / 2, p.xTitleY, 'Original Asset Rating', 19, {align:'center'}));
  graphic.push(txt(20, p.top + p.height / 2, '\u0394 BER (%)', 19, {align:'center', rotation:Math.PI / 2}));
});

const chart = echarts.init(document.getElementById('chart'), null, {renderer:'canvas'});
chart.setOption({
  animation:false,
  backgroundColor:'#fff',
  grid:grid, xAxis:xAxis, yAxis:yAxis, series:series, graphic:graphic
});
</script>
</body>
</html>
